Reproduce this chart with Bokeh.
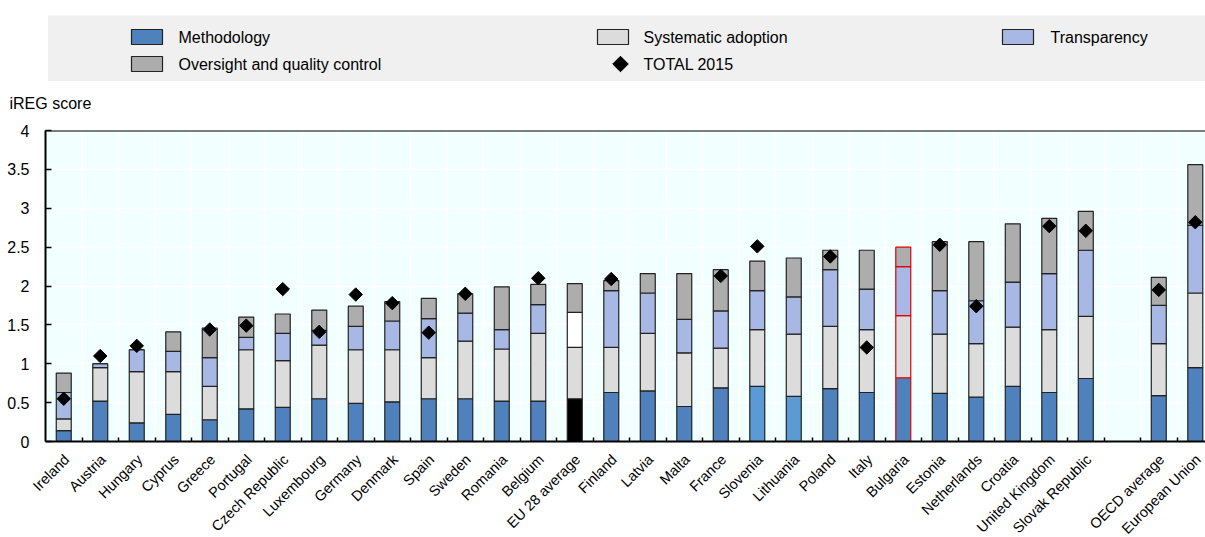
import numpy as np
from bokeh.plotting import figure
from bokeh.models import Range1d, FixedTicker, ColumnDataSource, Span
from bokeh.layouts import column
from bokeh.embed import file_html
from bokeh.resources import INLINE
from bokeh.core.properties import value

nan = float("nan")

countries = ["Ireland", "Austria", "Hungary", "Cyprus", "Greece", "Portugal",
             "Czech Republic", "Luxembourg", "Germany", "Denmark", "Spain",
             "Sweden", "Romania", "Belgium", "EU 28 average", "Finland",
             "Latvia", "Malta", "France", "Slovenia", "Lithuania", "Poland",
             "Italy", "Bulgaria", "Estonia", "Netherlands", "Croatia",
             "United Kingdom", "Slovak Republic", "OECD average", "European Union"]
methodology = [0.14, 0.52, 0.24, 0.35, 0.28, 0.42, 0.44, 0.55, 0.49, 0.51,
               0.55, 0.55, 0.52, 0.52, 0.55, 0.63, 0.65, 0.45, 0.69, 0.71,
               0.58, 0.68, 0.63, 0.82, 0.62, 0.57, 0.71, 0.63, 0.81, 0.59, 0.95]
systematic = [0.15, 0.43, 0.66, 0.55, 0.43, 0.76, 0.60, 0.69, 0.69, 0.67,
              0.53, 0.74, 0.67, 0.87, 0.66, 0.58, 0.74, 0.69, 0.51, 0.73,
              0.80, 0.80, 0.81, 0.80, 0.76, 0.69, 0.76, 0.81, 0.80, 0.67, 0.96]
transparency = [0.34, 0.05, 0.28, 0.26, 0.37, 0.16, 0.35, 0.19, 0.30, 0.37,
                0.50, 0.36, 0.25, 0.37, 0.45, 0.73, 0.52, 0.43, 0.48, 0.50,
                0.48, 0.73, 0.52, 0.63, 0.56, 0.55, 0.58, 0.72, 0.85, 0.49, 0.87]
oversight = [0.25, 0.00, 0.00, 0.25, 0.38, 0.26, 0.25, 0.26, 0.26, 0.25,
             0.26, 0.25, 0.55, 0.26, 0.37, 0.13, 0.25, 0.59, 0.53, 0.38,
             0.50, 0.25, 0.50, 0.25, 0.63, 0.76, 0.75, 0.71, 0.50, 0.36, 0.78]
total_2015 = [0.55, 1.10, 1.23, nan, 1.44, 1.49, 1.96, 1.41, 1.89, 1.78,
              1.40, 1.90, nan, 2.10, nan, 2.09, nan, nan, 2.13, 2.51,
              nan, 2.38, 1.21, nan, 2.53, 1.74, nan, 2.77, 2.71, 1.95, 2.82]
y_ticks = [0, 0.5, 1, 1.5, 2, 2.5, 3, 3.5, 4]
y_tick_labels = ["0", "0.5", "1", "1.5", "2", "2.5", "3", "3.5", "4"]

series_names = ["Methodology", "Systematic adoption", "Transparency",
                "Oversight and quality control"]
series_values = [methodology, systematic, transparency, oversight]

FONT_NAME = "Liberation Sans"
FONT = value(FONT_NAME)
C_METH = "#4F81BD"
C_METH_LIGHT = "#5B9BD5"
C_SYS = "#DCDCDC"
C_TRANS = "#A7B8E4"
C_OVER = "#ADADAD"
BG = "#F2FFFF"

W = 1205
LEFT = 45                     # chart frame left edge, px
X_START, X_END = -0.5, 31.28  # chart x range
HEADER_H, TOP_B, FRAME_H, BOT_B = 120, 10, 311, 9
FOOTER_H = 537 - HEADER_H - TOP_B - FRAME_H - BOT_B

n = len(countries)
# a blank slot is left before the two aggregate groups at the end
xpos = [i if i < n - 2 else i + 1 for i in range(n)]

p = figure(width=W, height=TOP_B + FRAME_H + BOT_B,
           x_range=Range1d(X_START, X_END), y_range=Range1d(0, 4),
           output_backend="svg", toolbar_location=None, frame_align=False,
           min_border_left=LEFT, min_border_right=0, min_border_top=TOP_B,
           min_border_bottom=BOT_B, background_fill_color=BG,
           outline_line_color=None)

bottoms = np.zeros(n)
for k, (name, vals) in enumerate(zip(series_names, series_values)):
    vals = np.array(vals)
    fills, lines = [], []
    for c in countries:
        if k == 0:
            col = C_METH
            if c in ("Slovenia", "Lithuania"):
                col = C_METH_LIGHT
            if c == "EU 28 average":
                col = "#000000"
        elif k == 1:
            col = C_SYS
        elif k == 2:
            col = "#FFFFFF" if c == "EU 28 average" else C_TRANS
        else:
            col = C_OVER
        fills.append(col)
        lines.append("#E00000" if c == "Bulgaria" else "#222222")
    src = ColumnDataSource(dict(x=xpos, bottom=bottoms.copy(),
                                top=bottoms + vals, fill=fills, line=lines))
    p.vbar(x="x", bottom="bottom", top="top", width=0.41, source=src,
           fill_color="fill", line_color="line", line_width=1.2)
    bottoms = bottoms + vals

tot = np.array(total_2015)
mask = ~np.isnan(tot)
p.scatter(x=np.array(xpos)[mask], y=tot[mask], marker="square",
          angle=np.pi / 4, size=9.5, fill_color="black", line_color="black")

boundaries = [b - 0.5 for b in range(1, 32)]
p.xaxis.ticker = FixedTicker(ticks=xpos, minor_ticks=boundaries)
p.xaxis.major_label_overrides = {x: "" for x in xpos}
p.xaxis.major_label_text_font_size = "0px"
p.xaxis.major_label_standoff = 0
p.xaxis.major_tick_line_color = None
p.xaxis.major_tick_in = 0
p.xaxis.major_tick_out = 0
p.xaxis.minor_tick_in = 4
p.xaxis.minor_tick_out = 0
p.xaxis.minor_tick_line_color = "black"
p.xaxis.minor_tick_line_width = 1.5
p.xaxis.axis_line_color = "black"
p.xaxis.axis_line_width = 2

p.yaxis.ticker = FixedTicker(ticks=y_ticks)
p.yaxis.major_label_overrides = {t: l for t, l in zip(y_ticks, y_tick_labels)}
p.yaxis.major_tick_in = 6
p.yaxis.major_tick_out = 0
p.yaxis.major_tick_line_width = 1.5
p.yaxis.major_tick_line_color = "black"
p.yaxis.minor_tick_line_color = None
p.yaxis.axis_line_color = "black"
p.yaxis.axis_line_width = 2
p.yaxis.major_label_standoff = 16
p.yaxis.major_label_text_font = FONT_NAME
p.yaxis.major_label_text_font_size = "16px"
p.yaxis.major_label_text_color = "black"

p.xgrid.ticker = FixedTicker(ticks=boundaries)
p.xgrid.grid_line_color = "white"
p.xgrid.grid_line_width = 1.5
p.ygrid.grid_line_color = "white"
p.ygrid.grid_line_width = 1.5

p.add_layout(Span(location=4, dimension="width", line_color="black", line_width=2))

# footer: rotated category labels on the same x scale as the chart
px_per_unit = (W - LEFT) / (X_END - X_START)
f = figure(width=W, height=FOOTER_H,
           x_range=Range1d(X_START - LEFT / px_per_unit, X_END),
           y_range=Range1d(FOOTER_H, 0), output_backend="svg",
           toolbar_location=None, frame_align=False, min_border_left=0,
           min_border_right=0, min_border_top=0, min_border_bottom=0,
           outline_line_color=None, x_axis_location=None, y_axis_location=None)
f.grid.visible = False
f.text(x=xpos, y=[6.5] * n, text=countries, angle=np.pi / 4, x_offset=3,
       text_align="right", text_baseline="middle", text_font=FONT,
       text_font_size="14.5px", text_color="black")

# header: legend and axis title
t = figure(width=W, height=HEADER_H, x_range=Range1d(0, W),
           y_range=Range1d(HEADER_H, 0), output_backend="svg",
           toolbar_location=None, frame_align=False, min_border_left=0,
           min_border_right=0, min_border_top=0, min_border_bottom=0,
           outline_line_color=None, x_axis_location=None, y_axis_location=None)
t.grid.visible = False
t.quad(left=47.5, right=W, top=15, bottom=80.5, fill_color="#F0F0F0",
       line_color=None)

leg_colors = [C_METH, C_SYS, C_TRANS, C_OVER]
leg_x = [131, 597, 1002, 131]
leg_y = [36.5, 36.5, 36.5, 63.5]
leg_text_x = [178, 643, 1050, 178]
t.quad(left=leg_x, right=[v + 31 for v in leg_x],
       top=[v - 7.5 for v in leg_y], bottom=[v + 7.5 for v in leg_y],
       fill_color=leg_colors, line_color="#222222", line_width=1.2)
t.text(x=leg_text_x, y=leg_y, text=series_names, text_font=FONT,
       text_font_size="16px", text_baseline="middle", text_align="left",
       text_color="black")
t.scatter(x=[620], y=[63.5], marker="square", angle=np.pi / 4, size=11,
          fill_color="black", line_color="black")
t.text(x=[643], y=[63.5], text=["TOTAL 2015"], text_font=FONT,
       text_font_size="16px", text_baseline="middle", text_align="left",
       text_color="black")
t.text(x=[9], y=[103], text=["iREG score"], text_font=FONT,
       text_font_size="16px", text_baseline="middle", text_align="left",
       text_color="black")

layout = column(t, p, f, spacing=0)
open("out.html", "w").write(file_html(layout, INLINE))
